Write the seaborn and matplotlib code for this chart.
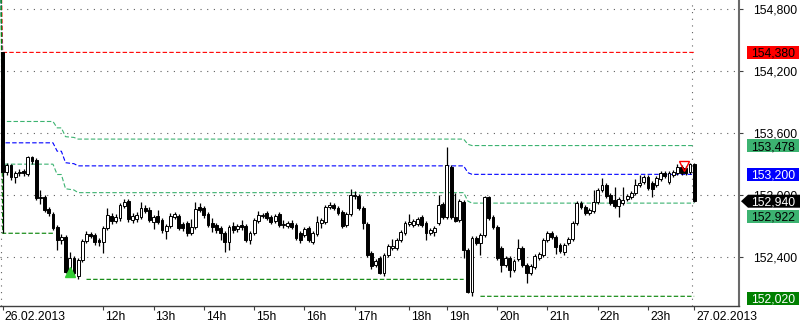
import numpy as np
import pandas as pd
import matplotlib
matplotlib.use("Agg")
import matplotlib.pyplot as plt
import matplotlib.transforms as mtransforms
from matplotlib.patches import Rectangle, Polygon
from matplotlib.ticker import FuncFormatter
import seaborn as sns

# ---------------- data (M5 candles, 26.02.2013 -> 27.02.2013) ----------------
open_ = [
    154.380, 153.223, 153.290, 153.174, 153.213, 153.232, 153.203, 153.368, 153.339, 152.971,
    152.981, 152.865, 152.816, 152.690, 152.565, 152.594, 152.255, 152.390, 152.216, 152.371,
    152.555, 152.623, 152.613, 152.565, 152.545, 152.681, 152.797, 152.748, 152.777, 152.894,
    152.942, 152.758, 152.768, 152.787, 152.874, 152.855, 152.739, 152.797, 152.758, 152.652,
    152.700, 152.787, 152.797, 152.719, 152.729, 152.632, 152.690, 152.884, 152.874, 152.816,
    152.729, 152.710, 152.681, 152.632, 152.545, 152.700, 152.671, 152.710, 152.700, 152.565,
    152.632, 152.748, 152.797, 152.826, 152.787, 152.748, 152.816, 152.710, 152.700, 152.729,
    152.710, 152.632, 152.613, 152.681, 152.545, 152.623, 152.729, 152.739, 152.884, 152.903,
    152.874, 152.835, 152.710, 152.816, 152.990, 152.990, 152.874, 152.719, 152.439, 152.323,
    152.390, 152.245, 152.419, 152.487, 152.487, 152.565, 152.632, 152.719, 152.710, 152.719,
    152.787, 152.729, 152.632, 152.642, 152.729, 152.913, 152.787, 153.271, 152.787, 152.758,
    152.932, 152.468, 152.061, 152.584, 152.535, 152.613, 152.981, 152.787, 152.690, 152.487,
    152.323, 152.390, 152.274, 152.381, 152.487, 152.323, 152.245, 152.303, 152.390, 152.419,
    152.565, 152.632, 152.594, 152.516, 152.448, 152.535, 152.574, 152.729, 152.923, 152.884,
    152.826, 152.845, 152.932, 153.048, 153.097, 153.000, 152.952, 152.894, 152.923, 152.961,
    152.981, 153.019, 153.097, 153.126, 153.174, 153.116, 153.097, 153.155, 153.213, 153.126,
    153.194, 153.213, 153.271, 153.261, 153.223, 153.300]
high = [
    154.380, 153.310, 153.300, 153.232, 153.252, 153.252, 153.377, 153.377, 153.358, 153.048,
    153.000, 152.884, 152.835, 152.710, 152.623, 152.613, 152.448, 152.410, 152.390, 152.574,
    152.652, 152.642, 152.632, 152.584, 152.700, 152.874, 152.826, 152.816, 152.923, 152.961,
    152.961, 152.826, 152.835, 152.932, 152.903, 152.884, 152.806, 152.855, 152.777, 152.719,
    152.826, 152.835, 152.816, 152.739, 152.748, 152.768, 152.932, 152.923, 152.894, 152.835,
    152.777, 152.729, 152.700, 152.652, 152.710, 152.739, 152.719, 152.758, 152.719, 152.652,
    152.777, 152.845, 152.826, 152.845, 152.806, 152.816, 152.835, 152.758, 152.748, 152.758,
    152.729, 152.652, 152.690, 152.700, 152.652, 152.797, 152.777, 152.903, 152.932, 152.923,
    152.894, 152.855, 152.835, 153.058, 153.039, 153.010, 152.894, 152.739, 152.458, 152.381,
    152.410, 152.439, 152.526, 152.574, 152.584, 152.661, 152.748, 152.816, 152.768, 152.787,
    152.806, 152.748, 152.681, 152.700, 153.000, 152.932, 153.465, 153.290, 153.019, 152.961,
    152.952, 152.487, 152.603, 152.603, 152.632, 152.990, 152.990, 152.806, 152.710, 152.506,
    152.410, 152.410, 152.381, 152.574, 152.506, 152.342, 152.332, 152.429, 152.448, 152.584,
    152.652, 152.652, 152.613, 152.535, 152.535, 152.594, 152.748, 152.942, 152.942, 152.903,
    152.874, 153.048, 153.068, 153.165, 153.116, 153.019, 153.077, 152.981, 153.077, 153.010,
    153.039, 153.155, 153.194, 153.194, 153.194, 153.135, 153.184, 153.232, 153.232, 153.232,
    153.242, 153.300, 153.290, 153.281, 153.310, 153.310]
low = [
    152.630, 153.194, 153.145, 153.116, 153.184, 153.184, 153.184, 153.300, 152.952, 152.913,
    152.835, 152.797, 152.661, 152.468, 152.526, 152.245, 152.236, 152.226, 152.184, 152.352,
    152.535, 152.584, 152.516, 152.506, 152.439, 152.661, 152.719, 152.729, 152.748, 152.874,
    152.739, 152.729, 152.739, 152.768, 152.826, 152.739, 152.671, 152.719, 152.632, 152.574,
    152.681, 152.768, 152.661, 152.652, 152.603, 152.613, 152.671, 152.835, 152.777, 152.690,
    152.642, 152.632, 152.565, 152.448, 152.468, 152.632, 152.642, 152.661, 152.545, 152.526,
    152.613, 152.729, 152.777, 152.758, 152.719, 152.729, 152.690, 152.681, 152.681, 152.671,
    152.565, 152.535, 152.594, 152.545, 152.526, 152.603, 152.681, 152.719, 152.865, 152.855,
    152.806, 152.681, 152.690, 152.797, 152.961, 152.855, 152.671, 152.400, 152.284, 152.303,
    152.236, 152.216, 152.400, 152.468, 152.468, 152.545, 152.613, 152.700, 152.690, 152.700,
    152.690, 152.565, 152.613, 152.603, 152.710, 152.768, 152.768, 152.768, 152.739, 152.739,
    152.390, 152.052, 152.020, 152.516, 152.419, 152.594, 152.758, 152.671, 152.371, 152.255,
    152.303, 152.206, 152.255, 152.361, 152.303, 152.148, 152.226, 152.284, 152.371, 152.400,
    152.545, 152.574, 152.429, 152.439, 152.419, 152.516, 152.555, 152.710, 152.865, 152.806,
    152.806, 152.826, 152.913, 153.029, 152.971, 152.903, 152.874, 152.787, 152.903, 152.942,
    152.961, 153.000, 153.077, 153.106, 153.048, 152.981, 153.077, 153.135, 153.165, 153.106,
    153.174, 153.194, 153.194, 153.194, 153.203, 152.932]
close = [
    153.223, 153.290, 153.174, 153.213, 153.223, 153.213, 153.368, 153.329, 152.971, 152.981,
    152.855, 152.826, 152.681, 152.565, 152.594, 152.255, 152.390, 152.245, 152.371, 152.555,
    152.623, 152.603, 152.545, 152.545, 152.681, 152.806, 152.748, 152.787, 152.903, 152.932,
    152.768, 152.797, 152.806, 152.874, 152.845, 152.758, 152.787, 152.739, 152.661, 152.700,
    152.797, 152.816, 152.681, 152.681, 152.632, 152.690, 152.865, 152.855, 152.806, 152.710,
    152.690, 152.661, 152.632, 152.545, 152.690, 152.661, 152.700, 152.690, 152.565, 152.632,
    152.758, 152.806, 152.806, 152.777, 152.739, 152.797, 152.710, 152.719, 152.729, 152.690,
    152.584, 152.565, 152.671, 152.565, 152.632, 152.739, 152.758, 152.884, 152.903, 152.874,
    152.826, 152.700, 152.816, 153.000, 153.000, 152.874, 152.729, 152.419, 152.313, 152.361,
    152.245, 152.419, 152.506, 152.506, 152.565, 152.642, 152.729, 152.739, 152.748, 152.768,
    152.710, 152.632, 152.661, 152.681, 152.903, 152.787, 153.290, 152.787, 152.748, 152.942,
    152.468, 152.061, 152.584, 152.535, 152.613, 152.981, 152.777, 152.690, 152.390, 152.323,
    152.390, 152.274, 152.361, 152.487, 152.323, 152.245, 152.313, 152.410, 152.429, 152.565,
    152.632, 152.594, 152.497, 152.458, 152.516, 152.574, 152.729, 152.923, 152.884, 152.826,
    152.855, 152.932, 153.048, 153.097, 152.990, 152.923, 152.894, 152.961, 152.952, 152.990,
    153.019, 153.097, 153.116, 153.174, 153.068, 153.058, 153.165, 153.213, 153.184, 153.213,
    153.223, 153.271, 153.213, 153.213, 153.300, 152.940]

tick_bars = [0, 24, 36, 48, 60, 72, 84, 97, 106, 118, 130, 142, 154, 165]
tick_labels = ["26.02.2013", "12h", "13h", "14h", "15h", "16h", "17h", "18h",
               "19h", "20h", "21h", "22h", "23h", "27.02.2013"]
grid_prices = [154.8, 154.2, 153.6, 153.0, 152.4]
day_separator_bars = [0, 165]
fib_ratios = [0.382, 0.5, 0.618]
prev_day_level = 155.3          # levels of the previous session (off the top)
buy_arrow = (16, 152.255)
sell_arrow = (162.5, 153.278)

# ---------------- styling ----------------
sns.set_theme(style="white")
plt.rcParams['font.family'] = ['Liberation Sans', 'DejaVu Sans']
FS = 8.7

W, H = 800, 322
fig = plt.figure(figsize=(W / 100, H / 100), dpi=100)
ax = fig.add_axes([0, 16 / H, 739 / W, 306 / H])
ax.set_facecolor('white')

df = pd.DataFrame(dict(o=open_, h=high, l=low, c=close))
df['bar'] = np.arange(len(df))
run_hi = np.maximum.accumulate(df['h'].values)
run_lo = np.minimum.accumulate(df['l'].values)
rng = run_hi - run_lo

# dark-green low line: hidden while a new low is being formed
new_low = np.r_[False, run_lo[1:] != run_lo[:-1]]
hide = new_low | np.r_[False, new_low[:-1]]
low_line = np.where(hide, np.nan, run_lo)

xs = np.r_[-0.45, df['bar'].values]
dash = (0, (4, 2))

def level(vals, color):
    sns.lineplot(x=xs, y=np.r_[prev_day_level, vals], ax=ax, color=color,
                 lw=0.8, linestyle=dash, sort=False, estimator=None, zorder=2)

level(run_hi, '#ff0000')
level(run_lo + fib_ratios[2] * rng, '#3cb371')
level(run_lo + fib_ratios[1] * rng, '#0000ff')
level(run_lo + fib_ratios[0] * rng, '#3cb371')
ax.plot(xs, np.r_[prev_day_level, low_line], color='#008000', lw=0.8,
        linestyle=dash, zorder=2)

# grid and day separators
for p in grid_prices:
    ax.axhline(p, color='#606060', lw=0.8, linestyle=(0, (1, 5)), zorder=1)
for b in day_separator_bars:
    ax.axvline(b - 0.4, color='#606060', lw=0.8, linestyle=(0, (1, 5)), zorder=1)

# candles
up = df['c'] >= df['o']
ax.vlines(df['bar'], df['l'], df['h'], color='black', lw=0.9, zorder=3)
ax.bar(df['bar'], (df['c'] - df['o']).abs(), bottom=np.minimum(df['o'], df['c']),
       width=0.68, color=np.where(up, 'white', 'black'), edgecolor='black',
       linewidth=0.7, zorder=4)

# signal arrows
ax.plot([buy_arrow[0]], [buy_arrow[1]], marker='^', ms=7, color='#33cc33',
        mec='#33cc33', zorder=5, ls='none')
ax.plot([sell_arrow[0]], [sell_arrow[1]], marker='v', ms=7.5, mfc='none',
        mec='#ff0000', mew=1.0, zorder=5, ls='none')

ax.set_xlim(-0.64, 175.7)
ax.set_ylim(151.926, 154.887)

# axes / spines
for s in ['left', 'top']:
    ax.spines[s].set_visible(False)
ax.spines['right'].set_color('#6a6a6a')
ax.spines['right'].set_linewidth(1.5)
ax.spines['bottom'].set_color('#404040')
ax.spines['bottom'].set_linewidth(1.0)

fmt = lambda v, pos=None: f"{v:.3f}".replace('.', ',')
ax.yaxis.tick_right()
ax.set_yticks(grid_prices)
ax.yaxis.set_major_formatter(FuncFormatter(fmt))
ax.tick_params(axis='y', direction='out', length=3, width=0.8, color='#404040',
               pad=7, labelsize=FS, labelcolor='black', right=True, left=False)

ax.set_xticks(tick_bars)
ax.set_xticklabels(tick_labels)
ax.tick_params(axis='x', direction='out', length=3, width=0.8, color='#404040',
               pad=0.5, labelsize=FS, labelcolor='black', bottom=True)
shift = mtransforms.ScaledTranslation(2 / 100, 0, fig.dpi_scale_trans)
for lbl in ax.get_xticklabels():
    lbl.set_ha('left')
    lbl.set_transform(lbl.get_transform() + shift)
ax.set_xlabel('')
ax.set_ylabel('')

# price labels on the right scale
fig.canvas.draw()
ppx = (ax.get_ylim()[1] - ax.get_ylim()[0]) / 306.0
blend = mtransforms.blended_transform_factory(fig.transFigure, ax.transData)
last_close = close[-1]
labels = [
    (run_hi[-1], '#ff0000', 'black', 0, False),
    (run_lo[-1] + fib_ratios[2] * rng[-1], '#3cb371', 'black', 0, False),
    (run_lo[-1] + fib_ratios[1] * rng[-1], '#0000ff', 'white', 0, False),
    (last_close, 'black', 'white', 0, True),
    (run_lo[-1] + fib_ratios[0] * rng[-1], '#3cb371', 'black', -13, False),
    (run_lo[-1], '#008000', 'white', -2, False),
]
hbox = 13 * ppx
for val, face, tc, dy, arrow in labels:
    t = mtransforms.offset_copy(blend, fig=fig, x=0, y=dy, units='dots')
    if arrow:
        pts = [(741 / W, val), (748 / W, val + hbox / 2), (1.0, val + hbox / 2),
               (1.0, val - hbox / 2), (748 / W, val - hbox / 2)]
        patch = Polygon(pts, closed=True, transform=t, facecolor=face,
                        edgecolor='none')
    else:
        patch = Rectangle((747 / W, val - hbox / 2), 52 / W, hbox, transform=t,
                          facecolor=face, edgecolor='none')
    fig.add_artist(patch)
    fig.text(773 / W, val, fmt(val), transform=t, ha='center',
             va='center_baseline', fontsize=FS, color=tc)

fig.savefig('out.png', dpi=100, facecolor='white')
